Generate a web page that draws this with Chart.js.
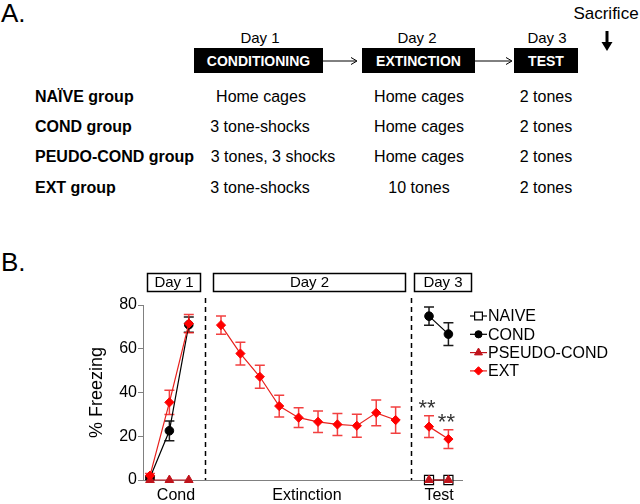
<!DOCTYPE html>
<html>
<head>
<meta charset="utf-8">
<script src="https://cdn.jsdelivr.net/npm/chart.js@4"></script>
<style>
    body { margin: 0; background: #fff; width: 640px; height: 504px; position: relative; overflow: hidden;
           font-family: "Liberation Sans", Arial, sans-serif; }
    #panelA { position: absolute; left: 0; top: 0; }
    #wrap { position: absolute; left: 0; top: 240px; width: 640px; height: 264px; }
    #labelB { position: absolute; left: 1px; top: 249px; font-size: 26px; line-height: 26px; }
</style>
</head>
<body>
<svg id="panelA" width="640" height="240" font-family="Liberation Sans, Arial, sans-serif">
    <text x="1" y="22" font-size="26">A.</text>
    <text x="606" y="19" font-size="17" text-anchor="middle">Sacrifice</text>
    <line x1="607" y1="31" x2="607" y2="43" stroke="#000" stroke-width="3"/>
    <polygon points="601.5,42 612.5,42 607,51" fill="#000"/>

    <g font-size="15" text-anchor="middle">
        <text x="260" y="42.5">Day 1</text>
        <text x="417" y="42.5">Day 2</text>
        <text x="547" y="42.5">Day 3</text>
    </g>
    <rect x="194" y="48" width="129" height="25" fill="#000"/>
    <rect x="362" y="48" width="113" height="25" fill="#000"/>
    <rect x="514" y="48" width="64" height="25" fill="#000"/>
    <g font-size="14" font-weight="bold" fill="#fff" text-anchor="middle">
        <text x="258.5" y="65.5">CONDITIONING</text>
        <text x="418.5" y="65.5">EXTINCTION</text>
        <text x="546" y="65.5">TEST</text>
    </g>
    <g stroke="#000" stroke-width="1" fill="none">
        <line x1="323" y1="61" x2="356" y2="61"/>
        <polyline points="351,57.5 357,61 351,64.5"/>
        <line x1="475" y1="61" x2="511" y2="61"/>
        <polyline points="506,57.5 512,61 506,64.5"/>
    </g>

    <g font-size="16" font-weight="bold">
        <text x="35" y="101.7">NAÏVE group</text>
        <text x="35" y="131.7">COND group</text>
        <text x="35" y="161.7">PEUDO-COND group</text>
        <text x="35" y="192.7">EXT group</text>
    </g>
    <g font-size="16" text-anchor="middle">
        <text x="261" y="101.7">Home cages</text>
        <text x="260" y="131.7">3 tone-shocks</text>
        <text x="273" y="161.7">3 tones, 3 shocks</text>
        <text x="260" y="192.7">3 tone-shocks</text>
        <text x="419" y="101.7">Home cages</text>
        <text x="419" y="131.7">Home cages</text>
        <text x="419" y="161.7">Home cages</text>
        <text x="419" y="192.7">10 tones</text>
        <text x="546" y="101.7">2 tones</text>
        <text x="546" y="131.7">2 tones</text>
        <text x="546" y="161.7">2 tones</text>
        <text x="546" y="192.7">2 tones</text>
    </g>
</svg>
<div id="labelB">B.</div>
<div id="wrap"><canvas id="freezingChart" width="640" height="264"></canvas></div>

<script>
const phaseNames = ['Cond', 'Extinction', 'Test'];
const yTicks = [0, 20, 40, 60, 80];

// % freezing (mean, SEM)
const naiveTest = [0, 0];
const condCond = [1, 22.5, 71];
const condCondErr = [0.8, 4.5, 3.5];
const condTest = [74.9, 66.7];
const condTestErr = [4.2, 5.2];
const pseudoCond = [0, 0, 0];
const pseudoTest = [0, 0];
const extCond = [2, 35.5, 71.5];
const extCondErr = [1, 5.5, 4.2];
const extExtinction = [70.8, 57.8, 47.2, 33.8, 28.5, 26.6, 25.4, 24.8, 30.7, 27.4];
const extExtinctionErr = [4.2, 5.2, 5.3, 5, 4.5, 4.9, 5, 5.3, 5.9, 6];
const extTest = [24.4, 18.7];
const extTestErr = [5, 4.3];

// layout of the phases along the x axis (in trial units)
const phaseStart = [1, 4.66, 15.38];
const phaseLabelAt = [2.34, 9.09, 15.9];
const dividers = [3.84, 14.45];
const dayBoxes = [['Day 1', 0.85, 3.58], ['Day 2', 4.25, 14.14], ['Day 3', 14.6, 17.55]];

function buildSeries(values, errors) {
    const pts = [];
    values.forEach((vals, p) => {
        if (!vals) return;
        if (pts.length) pts.push({ x: phaseStart[p] - 0.8, y: null });
        vals.forEach((v, i) => pts.push({
            x: phaseStart[p] + i,
            y: v,
            err: errors && errors[p] ? errors[p][i] : 0
        }));
    });
    return pts;
}

const errorBars = {
    id: 'errorBars',
    beforeDatasetsDraw(chart) {
        const ctx = chart.ctx;
        const yScale = chart.scales.y;
        chart.data.datasets.forEach((ds, di) => {
            if (!ds.errColor) return;
            const meta = chart.getDatasetMeta(di);
            ctx.save();
            ctx.strokeStyle = ds.errColor;
            ctx.lineWidth = 1.5;
            ds.data.forEach((d, i) => {
                if (d.y == null || !d.err) return;
                const px = meta.data[i].x;
                const top = yScale.getPixelForValue(d.y + d.err);
                const bot = yScale.getPixelForValue(d.y - d.err);
                ctx.beginPath();
                ctx.moveTo(px, top); ctx.lineTo(px, bot);
                ctx.moveTo(px - 5, top); ctx.lineTo(px + 5, top);
                ctx.moveTo(px - 5, bot); ctx.lineTo(px + 5, bot);
                ctx.stroke();
            });
            ctx.restore();
        });
    }
};

const extras = {
    id: 'extras',
    beforeDatasetsDraw(chart) {
        const ctx = chart.ctx;
        const xScale = chart.scales.x;
        // dashed phase dividers
        ctx.save();
        ctx.strokeStyle = '#000';
        ctx.lineWidth = 1.5;
        ctx.setLineDash([5, 4]);
        dividers.forEach(v => {
            const px = Math.round(xScale.getPixelForValue(v)) + 0.5;
            ctx.beginPath();
            ctx.moveTo(px, 58);
            ctx.lineTo(px, chart.chartArea.bottom);
            ctx.stroke();
        });
        ctx.restore();
    },
    afterDraw(chart) {
        const ctx = chart.ctx;
        const xScale = chart.scales.x;
        const yScale = chart.scales.y;
        ctx.save();
        ctx.font = '15px "Liberation Sans", Arial, sans-serif';
        ctx.textAlign = 'center';
        ctx.textBaseline = 'middle';
        // day boxes
        dayBoxes.forEach(([txt, a, b]) => {
            const x1 = Math.round(xScale.getPixelForValue(a)) + 0.5;
            const x2 = Math.round(xScale.getPixelForValue(b)) + 0.5;
            ctx.fillStyle = '#fff';
            ctx.fillRect(x1, 33.5, x2 - x1, 18);
            ctx.strokeStyle = '#000';
            ctx.lineWidth = 1.5;
            ctx.strokeRect(x1, 33.5, x2 - x1, 18);
            ctx.fillStyle = '#000';
            ctx.fillText(txt, (x1 + x2) / 2, 43);
        });

        // significance stars above EXT test points
        ctx.font = '22px "Liberation Sans", Arial, sans-serif';
        ctx.fillStyle = '#333';
        ctx.textBaseline = 'alphabetic';
        extTest.forEach((v, i) => {
            const px = xScale.getPixelForValue(phaseStart[2] + i) - 2;
            const py = yScale.getPixelForValue(v + extTestErr[i]) - 13 + 12.7;
            ctx.fillText('**', px, py);
        });

        // legend
        ctx.font = '16px "Liberation Sans", Arial, sans-serif';
        ctx.textAlign = 'left';
        ctx.textBaseline = 'middle';
        chart.data.datasets.forEach((ds, i) => {
            const ly = 76 + i * 18.3;
            ctx.strokeStyle = ds.borderColor;
            ctx.lineWidth = 1.2;
            ctx.beginPath();
            ctx.moveTo(470, ly);
            ctx.lineTo(487, ly);
            ctx.stroke();
            ctx.fillStyle = ds.pointBackgroundColor;
            ctx.strokeStyle = ds.pointBorderColor;
            ctx.lineWidth = ds.pointBorderWidth;
            Chart.helpers.drawPoint(ctx, {
                pointStyle: ds.pointStyle,
                radius: ds.legendRadius,
                rotation: 0,
                borderWidth: ds.pointBorderWidth
            }, 478.5, ly);
            ctx.fillStyle = '#000';
            ctx.fillText(ds.label, 488, ly + 1);
        });
        ctx.restore();
    }
};

const ctx = document.getElementById('freezingChart').getContext('2d');
new Chart(ctx, {
    type: 'line',
    data: {
        datasets: [
            {
                label: 'NAIVE',
                data: buildSeries([null, null, naiveTest]),
                borderColor: '#000',
                borderWidth: 1,
                pointStyle: 'rect',
                pointRadius: 6.4,
                legendRadius: 5.5,
                pointBackgroundColor: '#fff',
                pointBorderColor: '#000',
                pointBorderWidth: 1.2,
                order: 4
            },
            {
                label: 'COND',
                data: buildSeries([condCond, null, condTest], [condCondErr, null, condTestErr]),
                errColor: '#1a1a1a',
                borderColor: '#000',
                borderWidth: 1.2,
                pointStyle: 'circle',
                pointRadius: 4.3,
                legendRadius: 3.6,
                pointBackgroundColor: '#000',
                pointBorderColor: '#000',
                pointBorderWidth: 1,
                order: 3
            },
            {
                label: 'PSEUDO-COND',
                data: buildSeries([pseudoCond, null, pseudoTest]),
                borderColor: '#c0141c',
                borderWidth: 1.2,
                pointStyle: 'triangle',
                pointRadius: 5,
                legendRadius: 4.6,
                pointBackgroundColor: '#c0141c',
                pointBorderColor: '#c0141c',
                pointBorderWidth: 1,
                order: 2
            },
            {
                label: 'EXT',
                data: buildSeries([extCond, extExtinction, extTest], [extCondErr, extExtinctionErr, extTestErr]),
                errColor: 'rgba(240, 30, 30, 0.85)',
                borderColor: '#e8201c',
                borderWidth: 1.2,
                pointStyle: 'rectRot',
                pointRadius: 4.6,
                legendRadius: 4.2,
                pointBackgroundColor: '#ff0000',
                pointBorderColor: '#ff0000',
                pointBorderWidth: 1,
                order: 1
            }
        ]
    },
    options: {
        responsive: false,
        animation: false,
        devicePixelRatio: 1,
        clip: false,
        spanGaps: false,
        elements: { line: { tension: 0 } },
        layout: { padding: { left: 86, right: 178, top: 65, bottom: 0 } },
        plugins: {
            legend: { display: false },
            tooltip: { enabled: false }
        },
        scales: {
            x: {
                type: 'linear',
                min: 0.64,
                max: 17.08,
                afterBuildTicks: (scale) => {
                    scale.ticks = phaseLabelAt.map(v => ({ value: v }));
                },
                afterFit: (scale) => { scale.height = 24; },
                grid: { display: false, drawTicks: false },
                border: { display: true, color: '#808080', width: 1 },
                ticks: {
                    autoSkip: false,
                    maxRotation: 0,
                    padding: 6,
                    color: '#000',
                    font: { family: '"Liberation Sans", Arial, sans-serif', size: 16 },
                    callback: (value, index) => phaseNames[index] || ''
                }
            },
            y: {
                min: 0,
                max: 80,
                afterBuildTicks: (scale) => {
                    scale.ticks = yTicks.map(v => ({ value: v }));
                },
                afterFit: (scale) => { scale.width = 57; },
                grid: { drawOnChartArea: false, tickLength: 5, color: '#808080' },
                border: { display: true, color: '#808080', width: 1 },
                title: {
                    display: true,
                    text: '% Freezing',
                    color: '#000',
                    padding: { top: 0, bottom: 0 },
                    font: { family: '"Liberation Sans", Arial, sans-serif', size: 18 }
                },
                ticks: {
                    padding: 1,
                    color: '#000',
                    font: { family: '"Liberation Sans", Arial, sans-serif', size: 16 }
                }
            }
        }
    },
    plugins: [errorBars, extras]
});
</script>
</body>
</html>
